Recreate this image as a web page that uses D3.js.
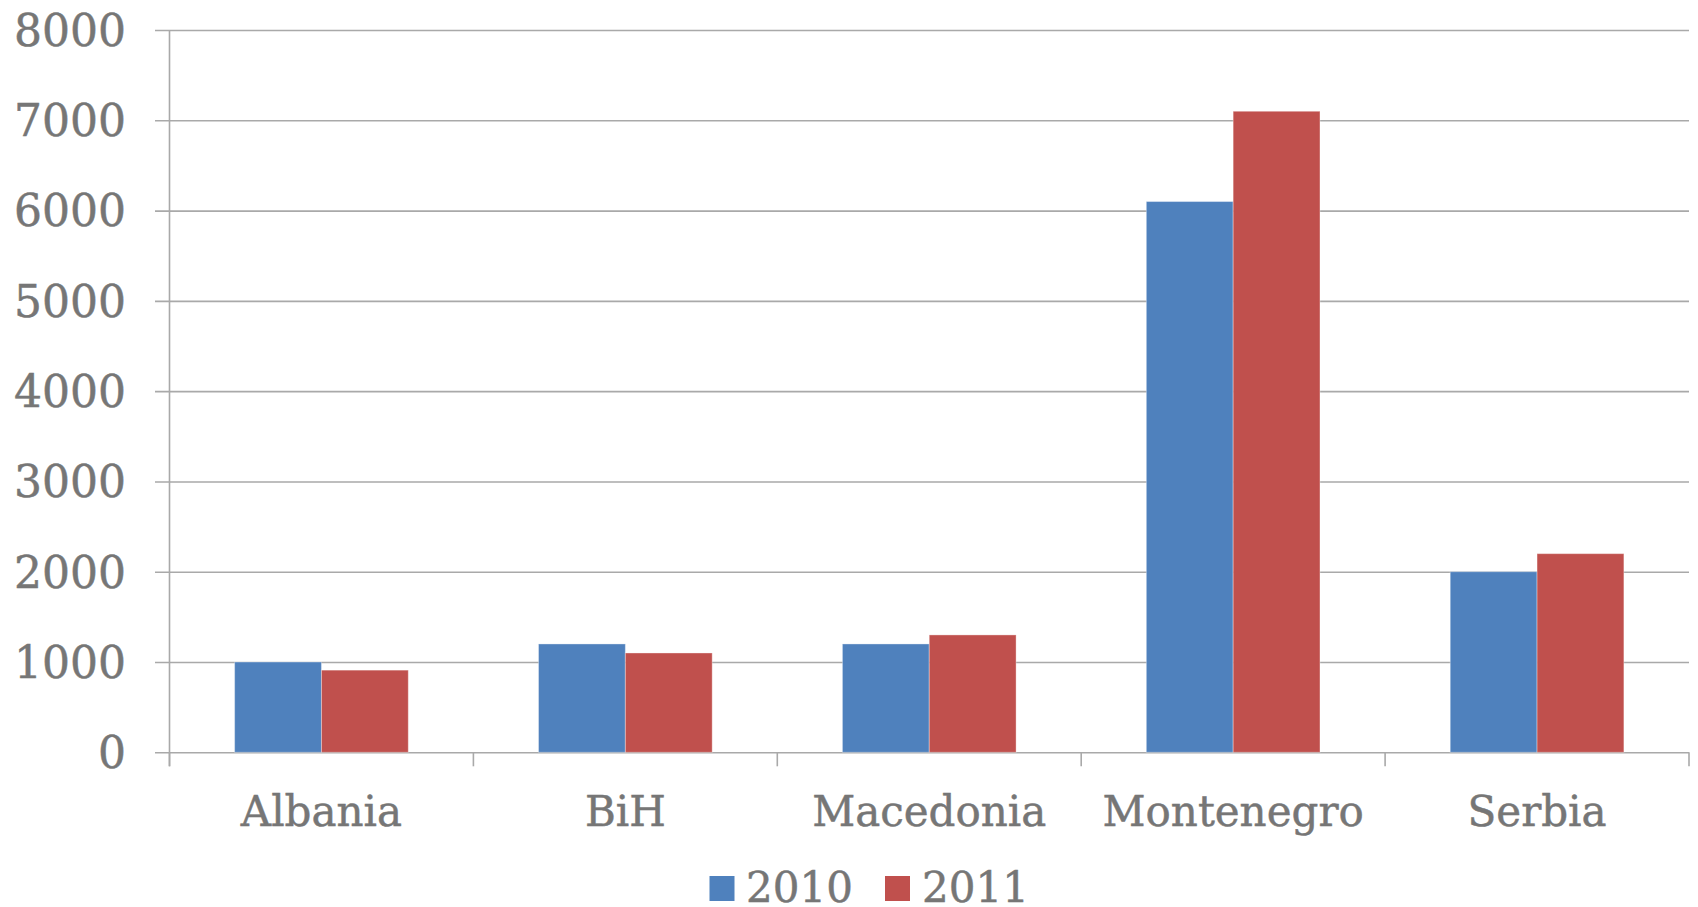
<!DOCTYPE html>
<html>
<head>
<meta charset="utf-8">
<script src="https://cdn.jsdelivr.net/npm/d3@7/dist/d3.min.js"></script>
<style>
  html, body { margin: 0; padding: 0; background: #fff; }
  svg { display: block; }
  text { font-family: "DejaVu Serif", serif; fill: #767676; stroke: #767676; stroke-width: 0.5px; }
</style>
</head>
<body>
<svg id="chart" width="1698" height="907"></svg>
<script>
// Data
const categories = ["Albania", "BiH", "Macedonia", "Montenegro", "Serbia"];
const seriesNames = ["2010", "2011"];
const values2010 = [1000, 1200, 1200, 6100, 2000];
const values2011 = [910, 1100, 1300, 7100, 2200];
const yTicks = [0, 1000, 2000, 3000, 4000, 5000, 6000, 7000, 8000];
const colors = ["#4F81BD", "#C0504D"];

const seriesValues = [values2010, values2011];

const svg = d3.select("#chart");
const plotLeft = 169.5, plotRight = 1689, plotTop = 30, plotBottom = 752.3;
const gridStart = 155;
const fontSize = 42;

const x = d3.scaleBand().domain(categories).range([plotLeft, plotRight]).paddingInner(0).paddingOuter(0);
const xs = d3.scaleBand().domain(seriesNames).range([0, x.bandwidth()]).paddingInner(0).paddingOuter(0.75);
const y = d3.scaleLinear().domain([0, 8000]).range([plotBottom, plotTop]);

// Horizontal gridlines with left tick stubs
const grid = svg.append("g")
  .attr("transform", `translate(${gridStart},0)`)
  .call(d3.axisRight(y).tickValues(yTicks).tickSize(plotRight - gridStart).tickFormat(""));
grid.select(".domain").remove();
grid.selectAll(".tick line").attr("stroke", "#A9A9A9").attr("stroke-width", 1.6);

// Y labels
const yLab = svg.append("g")
  .attr("transform", `translate(${gridStart},0)`)
  .call(d3.axisLeft(y).tickValues(yTicks).tickSize(0).tickPadding(29).tickFormat(d3.format("d")));
yLab.select(".domain").remove();
yLab.selectAll("text").style("font-size", "44px").attr("fill", "#767676").attr("dy", "0.35em");

// Bars
const groups = svg.append("g").selectAll("g")
  .data(categories)
  .join("g")
  .attr("transform", d => `translate(${x(d)},0)`);

groups.selectAll("rect")
  .data((c, i) => seriesNames.map((s, j) => ({ s, j, v: seriesValues[j][i] })))
  .join("rect")
  .attr("x", d => xs(d.s))
  .attr("width", xs.bandwidth())
  .attr("y", d => y(d.v))
  .attr("height", d => y(0) - y(d.v))
  .attr("fill", d => colors[d.j])
  .attr("stroke", "rgba(255,255,255,0.35)")
  .attr("stroke-width", 1);

// Vertical axis line
svg.append("line")
  .attr("x1", plotLeft).attr("x2", plotLeft)
  .attr("y1", y(8000)).attr("y2", plotBottom + 14)
  .attr("stroke", "#A9A9A9").attr("stroke-width", 1.6);

// Category boundary ticks
const boundaries = d3.range(categories.length + 1).map(i => x.range()[0] + i * x.step());
svg.append("g").selectAll("line")
  .data(boundaries)
  .join("line")
  .attr("x1", d => d).attr("x2", d => d)
  .attr("y1", plotBottom).attr("y2", plotBottom + 14)
  .attr("stroke", "#A9A9A9").attr("stroke-width", 1.6);

// Category labels
const xAx = svg.append("g")
  .attr("transform", `translate(0,${plotBottom})`)
  .call(d3.axisBottom(x).tickSize(0).tickPadding(0));
xAx.select(".domain").remove();
xAx.selectAll("text")
  .style("font-size", fontSize + "px")
  .attr("fill", "#767676")
  .attr("y", 74)
  .attr("dy", 0);

// Legend
const legend = svg.append("g");
const legendItems = [
  { name: seriesNames[0], color: colors[0], sx: 709.5, tx: 746 },
  { name: seriesNames[1], color: colors[1], sx: 885, tx: 922 }
];
legendItems.forEach(it => {
  legend.append("rect")
    .attr("x", it.sx).attr("y", 876)
    .attr("width", 25).attr("height", 25)
    .attr("fill", it.color);
  legend.append("text")
    .attr("x", it.tx).attr("y", 902)
    .style("font-size", fontSize + "px")
    .text(it.name);
});
</script>
</body>
</html>
